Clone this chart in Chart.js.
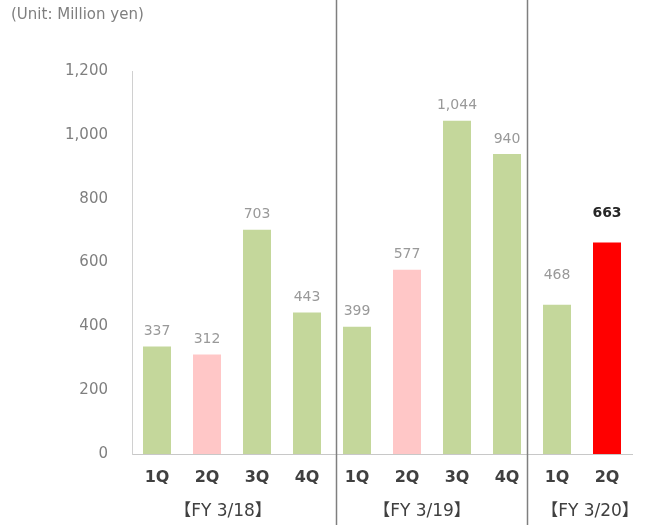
<!DOCTYPE html>
<html>
<head>
<meta charset="utf-8">
<script src="https://cdn.jsdelivr.net/npm/chart.js@4"></script>
<style>
  body { margin: 0; background: #fff; }
  #wrap { width: 647px; height: 528px; }
</style>
</head>
<body>
<div id="wrap"><canvas id="sales-chart"></canvas></div>
<script>
// quarters per fiscal year
var quarters = ['1Q', '2Q', '3Q', '4Q', '1Q', '2Q', '3Q', '4Q', '1Q', '2Q'];
var fiscalYears = ['【FY 3/18】', '【FY 3/19】', '【FY 3/20】'];
var sales = [337, 312, 703, 443, 399, 577, 1044, 940, 468, 663];
var yTicks = [0, 200, 400, 600, 800, 1000, 1200];

var green = '#c4d79b', pink = '#ffc7c7', red = '#ff0000';
var last = sales.length - 1;

function barColor(i) {
    if (i === last) return red;
    if (quarters[i] === '2Q') return pink;
    return green;
}

// labels above bars, unit text, year dividers and year captions
var extras = {
    id: 'extras',
    afterDatasetsDraw: function(chart) {
        var ctx = chart.ctx;
        var meta = chart.getDatasetMeta(0);
        ctx.save();
        ctx.textAlign = 'center';
        ctx.textBaseline = 'bottom';
        meta.data.forEach(function(bar, i) {
            if (i === last) {
                ctx.font = 'bold 14px "DejaVu Sans"';
                ctx.fillStyle = '#262626';
            } else {
                ctx.font = '14px "DejaVu Sans"';
                ctx.fillStyle = '#999999';
            }
            // last year's labels sit higher in the original
            var gap = i >= 8 ? 22 : 8;
            ctx.fillText(sales[i].toLocaleString('en-US'), bar.x, bar.y - gap);
        });
        ctx.restore();
    },
    afterDraw: function(chart) {
        var ctx = chart.ctx;
        var x = chart.scales.x;
        ctx.save();
        // unit
        ctx.font = '15px "DejaVu Sans"';
        ctx.fillStyle = '#7f7f7f';
        ctx.textAlign = 'left';
        ctx.textBaseline = 'middle';
        ctx.fillText('(Unit: Million yen)', 11, 15);

        // dividers between fiscal years
        ctx.strokeStyle = '#7f7f7f';
        ctx.lineWidth = 1.5;
        [3.58, 7.4].forEach(function(v) {
            var px = Math.round(x.getPixelForValue(v)) + 0.5;
            ctx.beginPath();
            ctx.moveTo(px, 0);
            ctx.lineTo(px, 525);
            ctx.stroke();
        });

        // fiscal year captions
        ctx.font = '17px "DejaVu Sans", "Noto Sans CJK JP"';
        ctx.fillStyle = '#404040';
        ctx.textAlign = 'center';
        [1.32, 5.3, 8.66].forEach(function(v, i) {
            ctx.fillText(fiscalYears[i], x.getPixelForValue(v), 512);
        });
        ctx.restore();
    }
};

var ctx = document.getElementById('sales-chart');
var chart = new Chart(ctx, {
    type: 'bar',
    data: {
        labels: quarters,
        datasets: [{
            data: sales,
            backgroundColor: sales.map(function(v, i) { return barColor(i); }),
            categoryPercentage: 1,
            barPercentage: 0.56
        }]
    },
    options: {
        responsive: true,
        maintainAspectRatio: false,
        animation: false,
        layout: { padding: { top: 71, right: 15, left: 0, bottom: 0 } },
        plugins: {
            legend: { display: false },
            tooltip: { enabled: false }
        },
        scales: {
            x: {
                grid: { display: false, drawTicks: false },
                border: { color: '#c8c8c8' },
                ticks: {
                    color: '#404040',
                    padding: 14,
                    font: { family: 'DejaVu Sans', size: 16, weight: 'bold' }
                },
                afterFit: function(s) { s.height = 74; }
            },
            y: {
                min: yTicks[0],
                max: yTicks[yTicks.length - 1],
                grid: { display: false, drawTicks: false },
                border: { color: '#d0d0d0' },
                afterBuildTicks: function(s) {
                    s.ticks = yTicks.map(function(v) { return { value: v }; });
                },
                ticks: {
                    color: '#7f7f7f',
                    padding: 24,
                    font: { family: 'DejaVu Sans', size: 15 },
                    callback: function(value) {
                        return value.toLocaleString('en-US');
                    }
                },
                afterFit: function(s) { s.width = 132; }
            }
        }
    },
    plugins: [extras]
});
</script>
</body>
</html>
